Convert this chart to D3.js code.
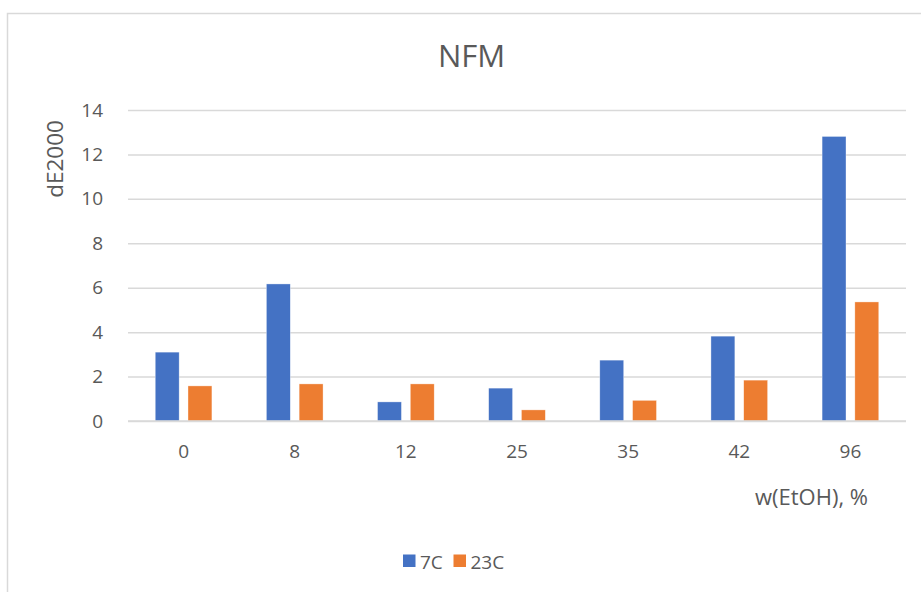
<!DOCTYPE html>
<html>
<head>
<meta charset="utf-8">
<script src="https://cdn.jsdelivr.net/npm/d3@7"></script>
<style>
  html, body { margin: 0; padding: 0; background: #ffffff; }
  svg { display: block; }
  text { font-family: "Open Sans", "Noto Sans", sans-serif; fill: #595959; }
</style>
</head>
<body>
<svg id="chart" width="921" height="592"></svg>
<script>
const categories = ["0", "8", "12", "25", "35", "42", "96"];
const seriesNames = ["7C", "23C"];
const values7C  = [3.10, 6.17, 0.86, 1.48, 2.74, 3.82, 12.81];
const values23C = [1.58, 1.67, 1.67, 0.50, 0.93, 1.84, 5.36];
const yTicks = [0, 2, 4, 6, 8, 10, 12, 14];
const colors = ["#4472C4", "#ED7D31"];

const seriesValues = [values7C, values23C];
const data = categories.map((c, i) => ({
  cat: c,
  vals: seriesNames.map((s, j) => ({ key: s, value: seriesValues[j][i] }))
}));

const svg = d3.select("#chart");

// chart border
svg.append("rect")
  .attr("x", 7.5).attr("y", 13.5)
  .attr("width", 940).attr("height", 600)
  .attr("fill", "#ffffff")
  .attr("stroke", "#d9d9d9").attr("stroke-width", 1.5);

const plotLeft = 128, plotRight = 906, plotTop = 110, plotBottom = 421;

const x0 = d3.scaleBand().domain(categories).range([plotLeft, plotRight]).padding(0);
const bw = x0.bandwidth();
const x1 = d3.scaleBand().domain(seriesNames)
  .range([bw * 0.245, bw * 0.755]).paddingInner(0.27).paddingOuter(0);
const y = d3.scaleLinear().domain([0, 14]).range([plotBottom, plotTop]);
const color = d3.scaleOrdinal().domain(seriesNames).range(colors);

// gridlines
const yAxis = d3.axisLeft(y).tickValues(yTicks).tickSize(-(plotRight - plotLeft)).tickPadding(25);
const gy = svg.append("g").attr("transform", `translate(${plotLeft},0)`).call(yAxis);
gy.select(".domain").remove();
gy.selectAll(".tick line").attr("stroke", "#d9d9d9").attr("stroke-width", 1.5);
gy.selectAll(".tick text")
  .attr("font-size", 19).attr("fill", "#595959")
  .style("font-family", "'Open Sans', sans-serif");

// bars
const groups = svg.append("g").selectAll("g").data(data).join("g")
  .attr("transform", d => `translate(${x0(d.cat)},0)`);
groups.selectAll("rect").data(d => d.vals).join("rect")
  .attr("x", d => x1(d.key))
  .attr("y", d => y(d.value))
  .attr("width", x1.bandwidth())
  .attr("height", d => y(0) - y(d.value))
  .attr("fill", d => color(d.key))
  .attr("stroke", "#ffffff").attr("stroke-width", 0.6).attr("stroke-opacity", 0.6);

// x axis line
svg.append("line")
  .attr("x1", plotLeft).attr("x2", plotRight)
  .attr("y1", y(0)).attr("y2", y(0))
  .attr("stroke", "#d9d9d9").attr("stroke-width", 1.5);

// x axis labels
const xAxis = d3.axisBottom(x0).tickSize(0).tickPadding(24);
const gx = svg.append("g").attr("transform", `translate(0,${plotBottom})`).call(xAxis);
gx.select(".domain").remove();
gx.selectAll(".tick text")
  .attr("font-size", 19).attr("fill", "#595959")
  .style("font-family", "'Open Sans', sans-serif");

// title
svg.append("text")
  .attr("x", 471.5).attr("y", 66.5)
  .attr("text-anchor", "middle")
  .attr("font-size", 31)
  .text("NFM");

// y axis title
svg.append("text")
  .attr("transform", "translate(62.5,159) rotate(-90)")
  .attr("text-anchor", "middle")
  .attr("font-size", 22.5)
  .text("dE2000");

// x axis title
svg.append("text")
  .attr("x", 868).attr("y", 505)
  .attr("text-anchor", "end")
  .attr("font-size", 22)
  .text("w(EtOH), %");

// legend
const legendItems = [
  { key: "7C", sx: 403, tx: 420 },
  { key: "23C", sx: 453.5, tx: 470.5 }
];
const lg = svg.append("g");
legendItems.forEach(it => {
  lg.append("rect")
    .attr("x", it.sx).attr("y", 554.5)
    .attr("width", 12.5).attr("height", 12.5)
    .attr("fill", color(it.key));
  lg.append("text")
    .attr("x", it.tx).attr("y", 568.5)
    .attr("font-size", 19)
    .text(it.key);
});
</script>
</body>
</html>
